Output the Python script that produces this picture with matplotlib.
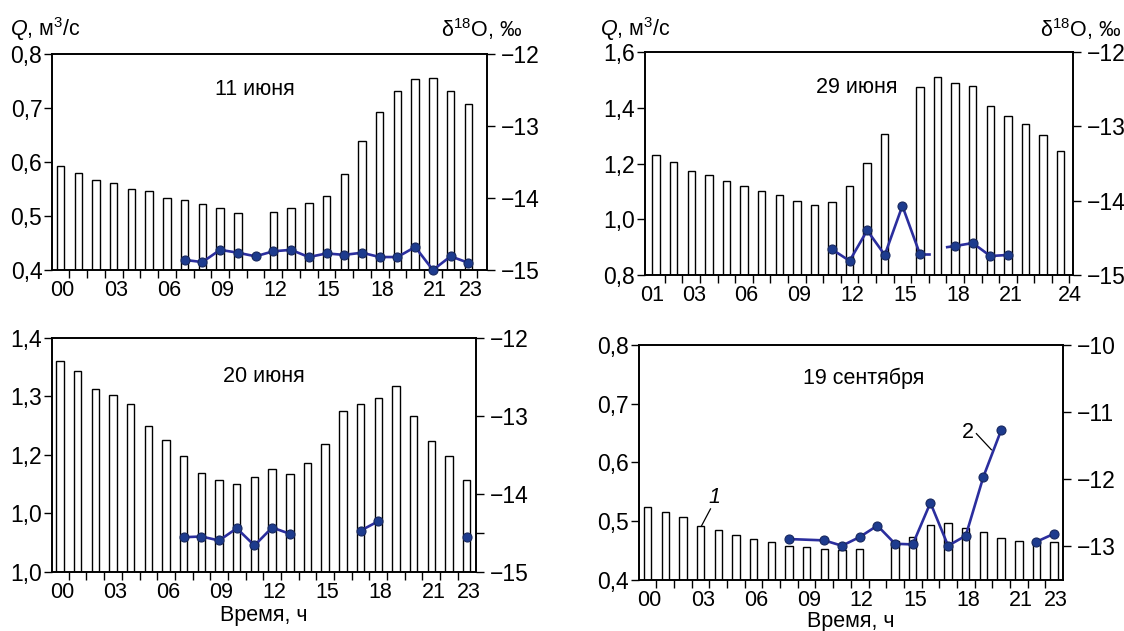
import matplotlib
matplotlib.use('Agg')
import matplotlib.pyplot as plt
import numpy as np

plt.rcParams['font.family'] = ['Liberation Sans', 'DejaVu Sans']
plt.rcParams['mathtext.fontset'] = 'custom'
plt.rcParams['mathtext.rm'] = 'Liberation Sans'
plt.rcParams['mathtext.it'] = 'Liberation Sans:italic'
plt.rcParams['axes.unicode_minus'] = True

nan = np.nan

# ---------------- DATA ----------------
# 11 June
hours_11jun = list(range(0, 24))
q_11jun = [0.593, 0.580, 0.567, 0.562, 0.550, 0.546, 0.534, 0.529, 0.522, 0.514,
           0.506, nan, 0.508, 0.514, 0.524, 0.537, 0.578, 0.638, 0.692, 0.732,
           0.754, 0.756, 0.732, 0.708]
d18_hours_11jun = list(range(7, 24))
d18_11jun = [-14.86, -14.89, -14.72, -14.76, -14.81, -14.74, -14.72, -14.82, -14.77,
             -14.79, -14.76, -14.82, -14.82, -14.68, -15.00, -14.81, -14.90]

# 29 June
hours_29jun = list(range(1, 25))
q_29jun = [1.230, 1.205, 1.174, 1.158, 1.136, 1.119, 1.102, 1.088, 1.067, 1.051,
           1.061, 1.119, 1.201, 1.305, nan, 1.476, 1.509, 1.487, 1.478, 1.407,
           1.372, 1.340, 1.304, 1.245]
d18_hours_29jun = [11, 12, 13, 14, 15, 16, 17, 18, 19, 20, 21]
d18_29jun = [-14.655, -14.81, -14.40, -14.73, -14.07, -14.72, nan, -14.61, -14.57,
             -14.745, -14.73]
# short dangling line pieces around the missing 17 h sample
stub_x_29jun = [[16, 16.5], [17.55, 18]]
stub_y_29jun = [[-14.72, -14.72], [-14.625, -14.61]]

# 20 June
hours_20jun = list(range(0, 24))
q_20jun = [1.360, 1.344, 1.313, 1.303, 1.288, 1.249, 1.225, 1.199, 1.170, 1.157,
           1.150, 1.163, 1.176, 1.168, 1.186, 1.219, 1.276, 1.287, 1.297, 1.318,
           1.267, 1.224, 1.199, 1.157]
d18_hours_20jun = list(range(7, 24))
d18_20jun = [-14.554, -14.545, -14.596, -14.44, -14.66, -14.43, -14.51, nan, nan, nan,
             -14.47, -14.35, nan, nan, nan, nan, -14.545]

# 19 September
hours_19sep = list(range(0, 24))
q_19sep = [0.524, 0.515, 0.507, 0.492, 0.485, 0.476, 0.470, 0.464, 0.458, 0.456,
           0.452, 0.451, 0.452, nan, 0.467, 0.474, 0.494, 0.497, 0.489, 0.481,
           0.472, 0.466, 0.467, 0.464]
d18_hours_19sep = [8, 10, 11, 12, 13, 14, 15, 16, 17, 18, 19, 20, 21, 22, 23]
d18_19sep = [-12.89, -12.91, -12.99, -12.86, -12.69, -12.96, -12.97, -12.35, -12.99,
             -12.84, -11.96, -11.27, nan, -12.93, -12.81]

xlabels_a = ['00', '03', '06', '09', '12', '15', '18', '21', '23']
xlabel_hours_a = [0, 3, 6, 9, 12, 15, 18, 21, 23]
xlabels_b = ['01', '03', '06', '09', '12', '15', '18', '21', '24']
xlabel_hours_b = [1, 3, 6, 9, 12, 15, 18, 21, 24]

# ---------------- STYLE ----------------
W, H = 1124, 631
fig = plt.figure(figsize=(W / 100, H / 100), dpi=100)

LINE_C = '#2b2e9e'
MFACE = '#1d3b8e'
MEDGE = '#17285f'
YT_FS = 16.5
XT_FS = 15.5
TXT_FS = 15.5


def rect(l, r, t, b):
    return [l / W, 1 - b / H, (r - l) / W, (b - t) / H]


def fmt(v):
    return ('%.1f' % v).replace('.', ',')


def make_panel(box, hours, q, qlim, qticks, qlabels, xlim,
               xl_pos, xl_txt, dlim, dticks, dlabels):
    ax = fig.add_axes(box)
    ax.bar(hours, q, width=0.42, facecolor='white', edgecolor='black',
           linewidth=1.0, zorder=2)
    ax.set_xlim(*xlim)
    ax.set_ylim(*qlim)
    # between-bar tick marks
    ax.set_xticks([h + 0.5 for h in hours[:-1]] +
                  ([hours[-1] + 0.5] if hours[-1] + 0.5 < xlim[1] - 0.1 else []))
    ax.set_xticklabels([])
    ax.set_xticks(xl_pos, minor=True)
    ax.set_xticklabels(xl_txt, minor=True, fontsize=XT_FS)
    ax.tick_params(axis='x', which='major', direction='out', length=6, width=1.0)
    ax.tick_params(axis='x', which='minor', length=0, pad=7)
    ax.set_yticks(qticks)
    ax.set_yticklabels(qlabels, fontsize=YT_FS)
    ax.tick_params(axis='y', direction='out', length=6, width=1.0, pad=1)
    for s in ax.spines.values():
        s.set_linewidth(1.2)
    ax2 = ax.twinx()
    ax2.set_ylim(*dlim)
    ax2.set_yticks(dticks)
    ax2.set_yticklabels(dlabels, fontsize=YT_FS)
    ax2.tick_params(axis='y', direction='out', length=6, width=1.0, pad=4)
    for s in ax2.spines.values():
        s.set_linewidth(1.2)
    return ax, ax2


def plot_d18(ax2, x, y):
    ax2.plot(x, y, color=LINE_C, lw=1.9, marker='o', ms=6.5,
             markerfacecolor=MFACE, markeredgecolor=MEDGE, markeredgewidth=0.8,
             clip_on=False, zorder=5)


def dlab(vals):
    return ['\u2212%d' % abs(v) if float(v).is_integer() else '' for v in vals]


# Panel 1: 11 June
ax, ax2 = make_panel(rect(52, 487, 54, 270), hours_11jun, q_11jun, (0.4, 0.8),
                     [0.4, 0.5, 0.6, 0.7, 0.8],
                     [fmt(v) for v in [0.4, 0.5, 0.6, 0.7, 0.8]],
                     (-0.48, 24.05), [h + 0.12 for h in xlabel_hours_a], xlabels_a,
                     (-15, -12), [-15, -14, -13, -12], dlab([-15, -14, -13, -12]))
plot_d18(ax2, d18_hours_11jun, d18_11jun)
ax.text(10.97, 0.7335, '11 июня', ha='center', va='center', fontsize=TXT_FS)

# Panel 2: 29 June
pos_b = [h + 0.15 for h in xlabel_hours_b]
pos_b[0] = 0.75
pos_b[-1] = 24.55
ax, ax2 = make_panel(rect(645, 1073, 52, 275), hours_29jun, q_29jun, (0.8, 1.6),
                     [0.8, 1.0, 1.2, 1.4, 1.6],
                     [fmt(v) for v in [0.8, 1.0, 1.2, 1.4, 1.6]],
                     (0.37, 24.7), pos_b, xlabels_b,
                     (-15, -12), [-15, -14, -13, -12], dlab([-15, -14, -13, -12]))
plot_d18(ax2, d18_hours_29jun, d18_29jun)
for sx, sy in zip(stub_x_29jun, stub_y_29jun):
    ax2.plot(sx, sy, color=LINE_C, lw=1.9, zorder=4)
ax.text(12.43, 1.471, '29 июня', ha='center', va='center', fontsize=TXT_FS)

# Panel 3: 20 June
ax, ax2 = make_panel(rect(52, 476, 338, 572), hours_20jun, q_20jun, (1.0, 1.4),
                     [1.0, 1.1, 1.2, 1.3, 1.4],
                     ['1,0', '1,0', '1,2', '1,3', '1,4'],
                     (-0.45, 23.53), [h + 0.12 for h in xlabel_hours_a], xlabels_a,
                     (-15, -12), [-15, -14.5, -14, -13, -12],
                     dlab([-15, -14.5, -14, -13, -12]))
plot_d18(ax2, d18_hours_20jun, d18_20jun)
ax.text(11.56, 1.335, '20 июня', ha='center', va='center', fontsize=TXT_FS)
ax.set_xlabel('Время, ч', fontsize=TXT_FS, labelpad=2)

# Panel 4: 19 September
ax, ax2 = make_panel(rect(638.7, 1063, 345, 580), hours_19sep, q_19sep, (0.4, 0.8),
                     [0.4, 0.5, 0.6, 0.7, 0.8],
                     [fmt(v) for v in [0.4, 0.5, 0.6, 0.7, 0.8]],
                     (-0.5, 23.5), [h + 0.12 for h in xlabel_hours_a], xlabels_a,
                     (-13.5, -10), [-13, -12, -11, -10], dlab([-13, -12, -11, -10]))
plot_d18(ax2, d18_hours_19sep, d18_19sep)
ax.text(12.2, 0.743, '19 сентября', ha='center', va='center', fontsize=TXT_FS)
ax.set_xlabel('Время, ч', fontsize=TXT_FS, labelpad=0)
# curve markers
ax.text(3.8, 0.541, '1', ha='center', va='center', fontsize=TXT_FS, style='italic')
ax.plot([3.56, 3.05], [0.521, 0.492], color='black', lw=0.9, zorder=6)
ax2.text(18.1, -11.30, '2', ha='center', va='center', fontsize=TXT_FS)
ax2.plot([18.6, 19.45], [-11.32, -11.56], color='black', lw=0.9, zorder=6)

# axis titles
q_lab = '$Q$, м$^{3}$/с'
d_lab = 'δ$^{18}$O, ‰'
fig.text(10 / W, 1 - 29 / H, q_lab, ha='left', va='center', fontsize=TXT_FS)
fig.text(522 / W, 1 - 29 / H, d_lab, ha='right', va='center', fontsize=TXT_FS)
fig.text(600 / W, 1 - 29 / H, q_lab, ha='left', va='center', fontsize=TXT_FS)
fig.text(1121 / W, 1 - 29 / H, d_lab, ha='right', va='center', fontsize=TXT_FS)

fig.savefig('out.png', dpi=100)
